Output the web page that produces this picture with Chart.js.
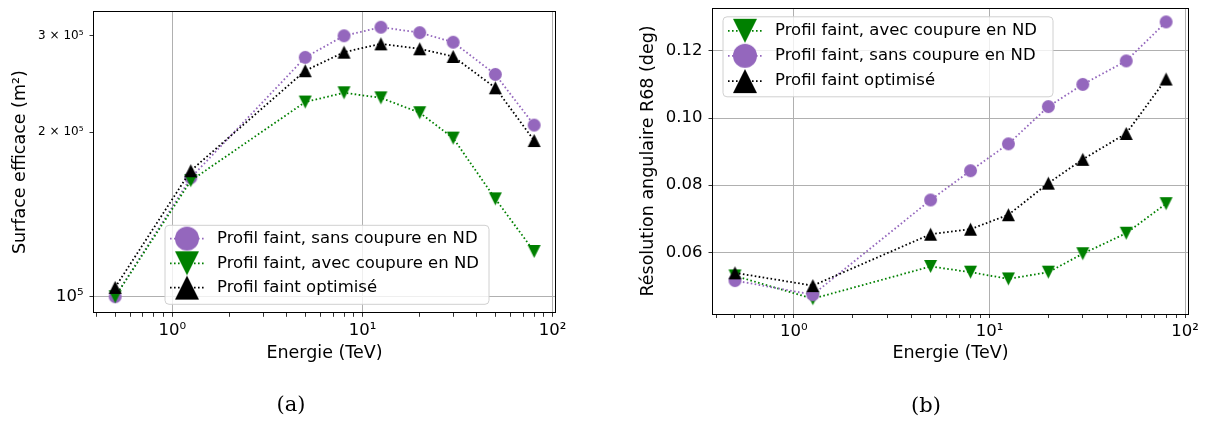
<!DOCTYPE html>
<html>
<head>
<meta charset="utf-8">
<script src="https://cdn.jsdelivr.net/npm/chart.js@4.4.0/dist/chart.umd.min.js"></script>
<style>
  body { margin: 0; background: #fff; width: 1205px; height: 421px; overflow: hidden; position: relative; }
  .box { position: absolute; top: 0; height: 421px; }
  .cap { position: absolute; font-family: "DejaVu Serif"; font-size: 21px; transform: translate(-50%, -50%); }
</style>
</head>
<body>
<div class="box" style="left:0;width:600px"><canvas id="chartA"></canvas></div>
<div class="box" style="left:600px;width:605px"><canvas id="chartB"></canvas></div>
<div class="cap" style="left:291px;top:404px">(a)</div>
<div class="cap" style="left:926px;top:405px">(b)</div>
<script>
// energies (TeV)
const energies = [0.5, 1.25, 5, 8, 12.5, 20, 30, 50, 80];

// (a) surface efficace (m2)
const surfaceSans = [1.0e5, 1.65e5, 2.74e5, 3.0e5, 3.11e5, 3.04e5, 2.92e5, 2.55e5, 2.06e5];
const surfaceAvec = [1.0e5, 1.63e5, 2.27e5, 2.36e5, 2.31e5, 2.17e5, 1.95e5, 1.51e5, 1.21e5];
const surfaceOptim = [1.04e5, 1.70e5, 2.59e5, 2.80e5, 2.90e5, 2.84e5, 2.75e5, 2.41e5, 1.93e5];

// (b) resolution angulaire R68 (deg)
const r68Avec = [0.053, 0.0462, 0.0558, 0.0541, 0.0521, 0.0541, 0.0596, 0.0657, 0.0745];
const r68Sans = [0.0516, 0.0474, 0.0756, 0.0843, 0.0923, 0.1034, 0.110, 0.117, 0.1286];
const r68Optim = [0.0539, 0.0501, 0.0654, 0.0669, 0.0712, 0.0806, 0.0877, 0.0954, 0.1116];

// ticks
const xMajor = [1, 10, 100];
const xMajorLabels = ["10\u2070", "10\u00b9", "10\u00b2"];
const xMinor = [0.4, 0.5, 0.6, 0.7, 0.8, 0.9, 2, 3, 4, 5, 6, 7, 8, 9, 20, 30, 40, 50, 60, 70, 80, 90];
const yTicksA = [1e5, 2e5, 3e5];
const yLabelsA = ["10\u2075", "2 \u00d7 10\u2075", "3 \u00d7 10\u2075"];
const yTicksB = [0.06, 0.08, 0.10, 0.12];
const yLabelsB = ["0.06", "0.08", "0.10", "0.12"];

const LBL_SANS = "Profil faint, sans coupure en ND";
const LBL_AVEC = "Profil faint, avec coupure en ND";
const LBL_OPTIM = "Profil faint optimisé";

const PURPLE = "#9467bd", GREEN = "#008000", BLACK = "#000000";
const FONT = "DejaVu Sans";
Chart.defaults.font.family = FONT;
Chart.defaults.color = "#000";

function makeMarker(shape, size, color) {
  const c = document.createElement("canvas");
  const n = Math.ceil(size) + 2;
  c.width = n; c.height = n;
  const g = c.getContext("2d");
  const m = n / 2, h = size / 2;
  g.fillStyle = color;
  g.beginPath();
  if (shape === "circle") g.arc(m, m, h, 0, Math.PI * 2);
  else if (shape === "up") { g.moveTo(m, m - h); g.lineTo(m + h, m + h); g.lineTo(m - h, m + h); g.closePath(); }
  else { g.moveTo(m, m + h); g.lineTo(m + h, m - h); g.lineTo(m - h, m - h); g.closePath(); }
  g.fill();
  return c;
}

function series(label, ys, color, shape, order) {
  return {
    label: label,
    data: energies.map((e, i) => ({ x: e, y: ys[i] })),
    borderColor: color,
    backgroundColor: color,
    borderWidth: 1.8,
    borderDash: [1.6, 2.4],
    tension: 0,
    pointStyle: makeMarker(shape, 13, color),
    legendMarker: makeMarker(shape, 24, color),
    pointRadius: 6.5,
    pointHoverRadius: 6.5,
    clip: false,
    order: order
  };
}

const framePlugin = {
  id: "frame",
  afterDatasetsDraw(chart) {
    const { ctx, chartArea: a } = chart;
    ctx.save();
    ctx.strokeStyle = "#000";
    ctx.lineWidth = 1;
    const l = Math.round(a.left) - 0.5, t = Math.round(a.top) - 0.5;
    ctx.strokeRect(l, t, Math.round(a.right) - Math.round(a.left) + 1, Math.round(a.bottom) - Math.round(a.top) + 1);
    ctx.restore();
  }
};

const legendPlugin = {
  id: "insideLegend",
  afterDraw(chart, args, o) {
    const { ctx, chartArea: a } = chart;
    const x0 = a.left + o.dx;
    const y0 = o.fromBottom != null ? a.bottom - o.fromBottom - o.h : a.top + o.dy;
    ctx.save();
    ctx.beginPath();
    if (ctx.roundRect) ctx.roundRect(x0, y0, o.w, o.h, 4); else ctx.rect(x0, y0, o.w, o.h);
    ctx.fillStyle = "rgba(255,255,255,0.8)";
    ctx.fill();
    ctx.strokeStyle = "#d0d0d0";
    ctx.lineWidth = 1;
    ctx.stroke();
    chart.data.datasets.forEach((ds, i) => {
      const y = y0 + o.rows[i];
      ctx.setLineDash(ds.borderDash);
      ctx.lineWidth = ds.borderWidth;
      ctx.strokeStyle = ds.borderColor;
      ctx.beginPath();
      ctx.moveTo(x0 + 5, y);
      ctx.lineTo(x0 + 39, y);
      ctx.stroke();
      ctx.setLineDash([]);
      const m = ds.legendMarker;
      ctx.drawImage(m, x0 + 22 - m.width / 2, y - m.height / 2);
      ctx.fillStyle = "#000";
      ctx.font = '16.5px "' + FONT + '"';
      ctx.textBaseline = "middle";
      ctx.fillText(ds.label, x0 + 52, y);
    });
    ctx.restore();
  }
};

function xAxis(min, max, bottom) {
  return {
    type: "logarithmic",
    min: min, max: max, bounds: "data",
    afterBuildTicks: s => { s.ticks = xMajor.concat(xMinor).map(v => ({ value: v })); },
    afterFit: s => { s.height = 421 - 51 - bottom; s.paddingLeft = 0; s.paddingRight = 0; },
    ticks: {
      autoSkip: false, maxRotation: 0, padding: 4,
      font: { size: 16.5 },
      callback: v => (xMajor.includes(v) ? xMajorLabels[xMajor.indexOf(v)] : "")
    },
    grid: {
      color: c => (c.tick && xMajor.includes(c.tick.value) ? "#b0b0b0" : "rgba(0,0,0,0)"),
      tickColor: "#333", tickLength: 4.5, lineWidth: 1
    },
    border: { display: false },
    title: { display: true, text: "Energie (TeV)", font: { size: 17.5 }, padding: { top: 0, bottom: 6 } }
  };
}

const commonOpts = {
  responsive: true,
  maintainAspectRatio: false,
  animation: false,
  events: [],
  plugins: { legend: { display: false }, tooltip: { enabled: false } }
};

new Chart(document.getElementById("chartA"), {
  type: "line",
  data: {
    datasets: [
      series(LBL_SANS, surfaceSans, PURPLE, "circle", 2),
      series(LBL_AVEC, surfaceAvec, GREEN, "down", 1),
      series(LBL_OPTIM, surfaceOptim, BLACK, "up", 0)
    ]
  },
  plugins: [framePlugin, legendPlugin],
  options: Object.assign({}, commonOpts, {
    layout: { padding: { top: 12, right: 45, bottom: 51, left: 0 } },
    plugins: Object.assign({}, commonOpts.plugins, {
      insideLegend: { dx: 71, fromBottom: 8, w: 324, h: 79, rows: [13.3, 38, 62.3] }
    }),
    scales: {
      x: xAxis(0.387, 103, 312.3),
      y: {
        type: "logarithmic",
        min: 0.9365e5, max: 3.316e5, bounds: "data",
        afterBuildTicks: s => { s.ticks = yTicksA.map(v => ({ value: v })); },
        afterFit: s => { s.width = 94; s.paddingTop = 0; s.paddingBottom = 0; },
        ticks: {
          padding: 6,
          font: c => ({ family: FONT, size: c.tick && c.tick.value === 1e5 ? 16.5 : 12 }),
          callback: v => yLabelsA[yTicksA.indexOf(v)]
        },
        grid: {
          color: c => (c.tick && c.tick.value === 1e5 ? "#b0b0b0" : "rgba(0,0,0,0)"),
          tickColor: "#333", tickLength: 4.5, lineWidth: 1
        },
        border: { display: false },
        title: { display: true, text: "Surface efficace (m\u00b2)", font: { size: 17.5 }, padding: { top: 9.5, bottom: 0 } }
      }
    }
  })
});

new Chart(document.getElementById("chartB"), {
  type: "line",
  data: {
    datasets: [
      series(LBL_AVEC, r68Avec, GREEN, "down", 2),
      series(LBL_SANS, r68Sans, PURPLE, "circle", 1),
      series(LBL_OPTIM, r68Optim, BLACK, "up", 0)
    ]
  },
  plugins: [framePlugin, legendPlugin],
  options: Object.assign({}, commonOpts, {
    layout: { padding: { top: 8.5, right: 17, bottom: 51, left: 0 } },
    plugins: Object.assign({}, commonOpts.plugins, {
      insideLegend: { dx: 10, dy: 8.3, w: 330, h: 80, rows: [14, 39, 64.3] }
    }),
    scales: {
      x: xAxis(0.386, 103.5, 313.5),
      y: {
        type: "linear",
        min: 0.0418, max: 0.1326, bounds: "data",
        afterBuildTicks: s => { s.ticks = yTicksB.map(v => ({ value: v })); },
        afterFit: s => { s.width = 113; s.paddingTop = 0; s.paddingBottom = 0; },
        ticks: {
          padding: 6,
          font: { size: 16.5 },
          callback: v => yLabelsB[yTicksB.indexOf(v)]
        },
        grid: { color: "#b0b0b0", tickColor: "#333", tickLength: 4.5, lineWidth: 1 },
        border: { display: false },
        title: { display: true, text: "Résolution angulaire R68 (deg)", font: { size: 17.5 }, padding: { top: 38, bottom: 0 } }
      }
    }
  })
});
</script>
</body>
</html>
